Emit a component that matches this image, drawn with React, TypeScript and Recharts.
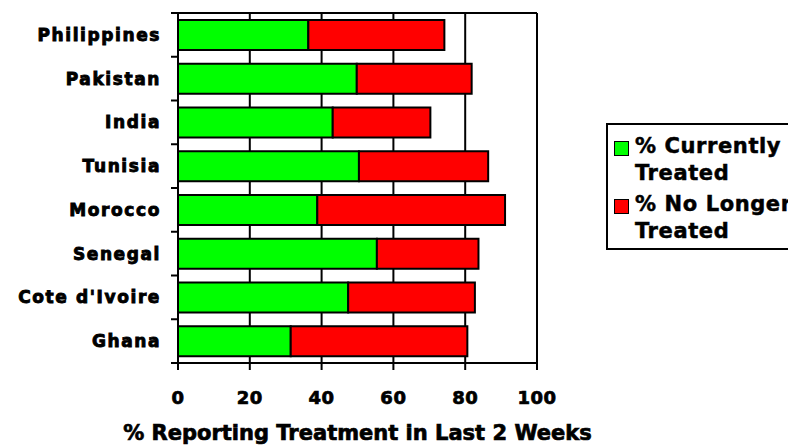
import { BarChart, Bar, XAxis, YAxis, CartesianGrid, Legend, Label } from 'recharts';

const countries = ['Philippines', 'Pakistan', 'India', 'Tunisia', 'Morocco', 'Senegal', "Cote d'Ivoire", 'Ghana'];
const currentlyTreated = [36.3, 49.8, 43.1, 50.4, 38.8, 55.4, 47.4, 31.4];
const noLongerTreated = [37.9, 32.0, 27.2, 36.0, 52.3, 28.3, 35.3, 49.2];
const xTicks = [0, 20, 40, 60, 80, 100];

const data = countries.map((name, i) => ({
  name,
  current: currentlyTreated[i],
  noLonger: noLongerTreated[i],
}));

const W = 788;
const H = 446;
const MARGIN = { top: 13, right: 251, bottom: 0, left: 0 };
const X_AXIS_H = 83;
const Y_AXIS_W = 178;
const FONT = '"DejaVu Sans", Verdana, sans-serif';
const BAND = (H - MARGIN.top - MARGIN.bottom - X_AXIS_H) / countries.length;
const PLOT_W = W - MARGIN.left - MARGIN.right - Y_AXIS_W;

// category tick: label in the middle of the band, tick marks on the band edges
function CountryTick(props: any) {
  const { x, y, payload, index } = props;
  const top = y - BAND / 2;
  const bottom = y + BAND / 2;
  return (
    <g>
      <line x1={x - 7} x2={index === 0 ? x + PLOT_W : x} y1={top} y2={top} stroke="#000" strokeWidth={2} />
      {index === countries.length - 1 && (
        <line x1={x - 7} x2={x} y1={bottom} y2={bottom} stroke="#000" strokeWidth={2} />
      )}
      <text
        x={x - 17}
        y={y}
        textAnchor="end"
        dominantBaseline="central"
        fontFamily={FONT}
        fontWeight="bold"
        fontSize={17}
        letterSpacing={1.6}
        fill="#000"
        stroke="#000"
        strokeWidth={0.9}
      >
        {payload.value}
      </text>
    </g>
  );
}

const legendItems = [
  { color: '#00ff00', lines: ['% Currently', 'Treated'] },
  { color: '#ff0000', lines: ['% No Longer', 'Treated'] },
];

function LegendBox() {
  return (
    <div
      style={{
        border: '2px solid #000',
        width: 200,
        height: 115,
        boxSizing: 'content-box',
        padding: '8px 0 0 6px',
        fontFamily: FONT,
        fontWeight: 'bold',
        fontSize: 21,
        letterSpacing: 0.6,
        color: '#000',
        lineHeight: '27px',
        background: '#fff',
        WebkitTextStroke: '0.5px #000',
        textAlign: 'left',
      }}
    >
      {legendItems.map((item) => (
        <div key={item.color} style={{ display: 'flex', alignItems: 'flex-start', marginBottom: 4 }}>
          <span
            style={{
              width: 13,
              height: 13,
              background: item.color,
              border: '1px solid #000',
              marginTop: 8,
              marginRight: 6,
              flexShrink: 0,
            }}
          />
          <div>
            {item.lines.map((l) => (
              <div key={l} style={{ whiteSpace: 'nowrap' }}>{l}</div>
            ))}
          </div>
        </div>
      ))}
    </div>
  );
}

export default function App() {
  return (
    <div style={{ position: 'absolute', left: 0, top: 0, width: W, height: H, overflow: 'hidden', background: '#fff' }}>
      <BarChart width={W} height={H} data={data} layout="vertical" margin={MARGIN} barCategoryGap={7}>
        <CartesianGrid horizontal={false} stroke="#000" strokeWidth={2} verticalValues={xTicks} />
        <XAxis
          type="number"
          domain={[0, 100]}
          ticks={xTicks}
          height={X_AXIS_H}
          axisLine={{ stroke: '#000', strokeWidth: 2 }}
          tickLine={{ stroke: '#000', strokeWidth: 2 }}
          tickSize={7}
          tickMargin={21}
          tick={{ fill: '#000', stroke: '#000', strokeWidth: 0.7, fontFamily: FONT, fontWeight: 'bold', fontSize: 18, letterSpacing: 0.5 }}
          interval={0}
        >
          <Label
            value="% Reporting Treatment in Last 2 Weeks"
            position="insideBottom"
            offset={6}
            style={{ fill: '#000', stroke: '#000', strokeWidth: 0.7, fontFamily: FONT, fontWeight: 'bold', fontSize: 21 }}
          />
        </XAxis>
        <YAxis
          type="category"
          dataKey="name"
          width={Y_AXIS_W}
          axisLine={{ stroke: '#000', strokeWidth: 2 }}
          tickLine={false}
          tickSize={0}
          tickMargin={0}
          tick={<CountryTick />}
          interval={0}
        />
        <Legend
          layout="vertical"
          align="center"
          verticalAlign="middle"
          content={<LegendBox />}
          wrapperStyle={{ position: 'absolute', left: 606, top: 123, width: 220 }}
        />
        <Bar dataKey="current" stackId="a" fill="#00ff00" stroke="#000" strokeWidth={2} isAnimationActive={false} />
        <Bar dataKey="noLonger" stackId="a" fill="#ff0000" stroke="#000" strokeWidth={2} isAnimationActive={false} />
      </BarChart>
    </div>
  );
}
